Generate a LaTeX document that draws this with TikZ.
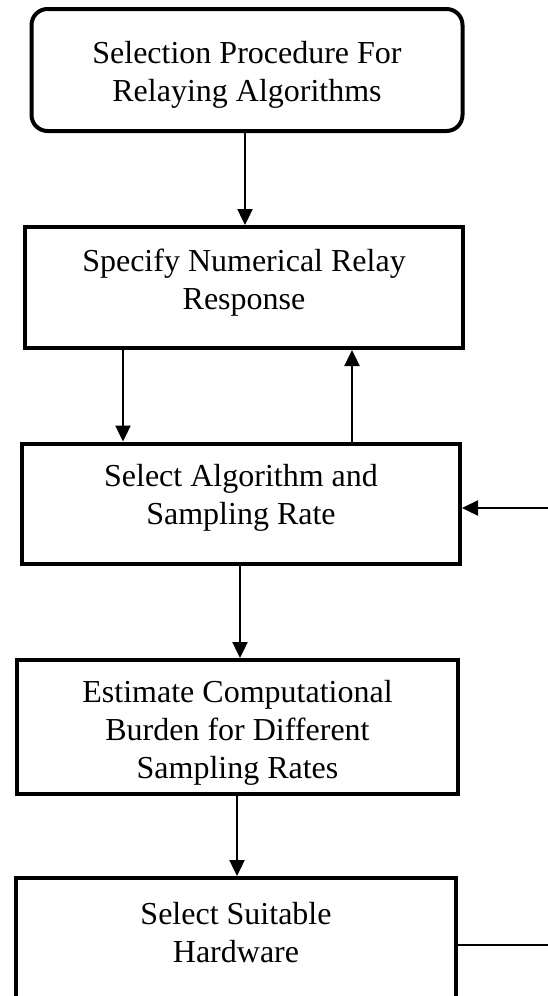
\documentclass[tikz,border=0pt]{standalone}
\usepackage{fontspec}
\setmainfont{Liberation Serif}
\usetikzlibrary{arrows.meta}
\begin{document}
\begin{tikzpicture}[x=1pt,y=-1pt,
  box/.style={draw=black, line width=4pt, fill=none, inner sep=0pt},
  roundbox/.style={box, rounded corners=16pt},
  txt/.style={align=center, inner sep=0pt, font=\fontsize{32}{38}\selectfont},
  arr/.style={line width=2.4pt, -{Triangle[length=16pt,width=15pt]}},
  plain/.style={line width=2.4pt}]
\useasboundingbox (0,0) rectangle (548,996);
\clip (0,0) rectangle (548,996);

% boxes
\node[roundbox, minimum width=431pt, minimum height=122pt] (b1) at (247,70) {};
\node[box, minimum width=438pt, minimum height=121pt] (b2) at (244,287.5) {};
\node[box, minimum width=438pt, minimum height=120pt] (b3) at (241,503.5) {};
\node[box, minimum width=441pt, minimum height=134pt] (b4) at (237.5,727) {};
\node[box, minimum width=440pt, minimum height=140pt] (b5) at (236,948) {};

% box texts
\node[txt] (t1) at (247,75) {Selection Procedure For\\Relaying Algorithms};
\node[txt] (t2) at (244,283) {Specify Numerical Relay\\Response};
\node[txt] (t3) at (241,497.5) {Select Algorithm and\\Sampling Rate};
\node[txt] (t4) at (237.5,733) {Estimate Computational\\Burden for Different\\Sampling Rates};
\node[txt] (t5) at (236,933) {Select Suitable\\Hardware};

% columns and rows of the connectors
\coordinate (x1) at (245,0);
\coordinate (x2) at (123,0);
\coordinate (x3) at (352,0);
\coordinate (x4) at (240,0);
\coordinate (x5) at (237,0);
\coordinate (feedin) at (548,508);
\coordinate (hwout) at (548,945);

% connectors
\draw[arr] (b1.south -| x1) -- (b2.north -| x1);
\draw[arr] (b2.south -| x2) -- (b3.north -| x2);
\draw[arr] (b3.north -| x3) -- (b2.south -| x3);
\draw[arr] (b3.south -| x4) -- (b4.north -| x4);
\draw[arr] (b4.south -| x5) -- (b5.north -| x5);
\draw[arr] (feedin) -- (b3.east |- feedin);
\draw[plain] (b5.east |- hwout) -- (hwout);
\end{tikzpicture}
\end{document}
